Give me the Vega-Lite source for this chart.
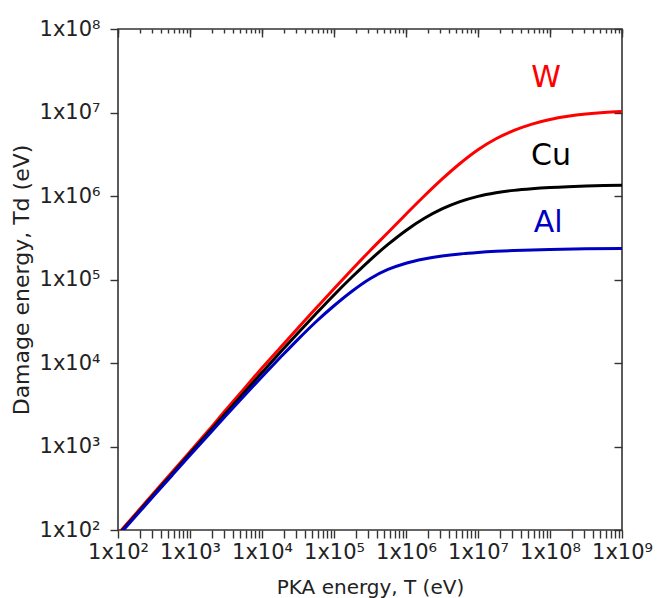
{
  "$schema": "https://vega.github.io/schema/vega-lite/v6.json",
  "width": 504,
  "height": 501,
  "autosize": "none",
  "padding": {"left": 118, "top": 29, "right": 50, "bottom": 68},
  "background": "white",
  "config": {
    "view": {"stroke": "#333333", "strokeWidth": 1.6},
    "axis": {"domain": false, "grid": false, "ticks": true, "labelFont": "DejaVu Sans", "titleFont": "DejaVu Sans", "labelColor": "#222222", "titleColor": "#222222", "tickColor": "#333333", "tickWidth": 1.4, "titleFontWeight": "normal"}
  },
  "resolve": {"axis": {"x": "independent", "y": "independent"}},
  "layer": [
    {
      "data": {"values": [
        {"m":"W","T":100,"Td":89.7},{"m":"W","T":177.8,"Td":158.1},{"m":"W","T":316.2,"Td":280},{"m":"W","T":562.3,"Td":492},
        {"m":"W","T":1000,"Td":866},{"m":"W","T":1778,"Td":1530},{"m":"W","T":3162,"Td":2754},{"m":"W","T":5623,"Td":4898},
        {"m":"W","T":10000,"Td":8710},{"m":"W","T":17783,"Td":15140},{"m":"W","T":31623,"Td":26300},{"m":"W","T":56234,"Td":45190},
        {"m":"W","T":100000,"Td":77620},{"m":"W","T":177828,"Td":131800},{"m":"W","T":316228,"Td":221300},{"m":"W","T":562341,"Td":365000},
        {"m":"W","T":1000000,"Td":605000},{"m":"W","T":1778279,"Td":992000},{"m":"W","T":3162278,"Td":1590000},{"m":"W","T":5623413,"Td":2450000},
        {"m":"W","T":10000000,"Td":3580000},{"m":"W","T":17782794,"Td":4850000},{"m":"W","T":31622777,"Td":6100000},{"m":"W","T":56234133,"Td":7270000},
        {"m":"W","T":100000000,"Td":8250000},{"m":"W","T":177827941,"Td":9000000},{"m":"W","T":316227766,"Td":9572000},{"m":"W","T":562341325,"Td":10000000},
        {"m":"W","T":1000000000,"Td":10300000},
        {"m":"Cu","T":100,"Td":87.05},{"m":"Cu","T":177.8,"Td":152.8},{"m":"Cu","T":316.2,"Td":267.8},{"m":"Cu","T":562.3,"Td":468.8},
        {"m":"Cu","T":1000,"Td":825},{"m":"Cu","T":1778,"Td":1445},{"m":"Cu","T":3162,"Td":2520},{"m":"Cu","T":5623,"Td":4390},
        {"m":"Cu","T":10000,"Td":7674},{"m":"Cu","T":17783,"Td":13340},{"m":"Cu","T":31623,"Td":22910},{"m":"Cu","T":56234,"Td":38900},
        {"m":"Cu","T":100000,"Td":65310},{"m":"Cu","T":177828,"Td":107000},{"m":"Cu","T":316228,"Td":171000},{"m":"Cu","T":562341,"Td":263000},
        {"m":"Cu","T":1000000,"Td":387000},{"m":"Cu","T":1778279,"Td":537000},{"m":"Cu","T":3162278,"Td":700000},{"m":"Cu","T":5623413,"Td":856000},
        {"m":"Cu","T":10000000,"Td":990000},{"m":"Cu","T":17782794,"Td":1092000},{"m":"Cu","T":31622777,"Td":1168000},{"m":"Cu","T":56234133,"Td":1222000},
        {"m":"Cu","T":100000000,"Td":1263000},{"m":"Cu","T":177827941,"Td":1293000},{"m":"Cu","T":316227766,"Td":1315000},{"m":"Cu","T":562341325,"Td":1332000},
        {"m":"Cu","T":1000000000,"Td":1346000},
        {"m":"Al","T":100,"Td":84.47},{"m":"Al","T":177.8,"Td":147.8},{"m":"Al","T":316.2,"Td":258.4},{"m":"Al","T":562.3,"Td":450.3},
        {"m":"Al","T":1000,"Td":783.4},{"m":"Al","T":1778,"Td":1358},{"m":"Al","T":3162,"Td":2347},{"m":"Al","T":5623,"Td":4031},
        {"m":"Al","T":10000,"Td":6863},{"m":"Al","T":17783,"Td":11530},{"m":"Al","T":31623,"Td":19200},{"m":"Al","T":56234,"Td":31200},
        {"m":"Al","T":100000,"Td":48500},{"m":"Al","T":177828,"Td":72440},{"m":"Al","T":316228,"Td":102300},{"m":"Al","T":562341,"Td":131800},
        {"m":"Al","T":1000000,"Td":156700},{"m":"Al","T":1778279,"Td":176000},{"m":"Al","T":3162278,"Td":191000},{"m":"Al","T":5623413,"Td":202500},
        {"m":"Al","T":10000000,"Td":211000},{"m":"Al","T":17782794,"Td":217600},{"m":"Al","T":31622777,"Td":222500},{"m":"Al","T":56234133,"Td":226100},
        {"m":"Al","T":100000000,"Td":228900},{"m":"Al","T":316227766,"Td":232900},{"m":"Al","T":1000000000,"Td":235600}
      ]},
      "mark": {"type": "line", "clip": true, "strokeWidth": 3, "interpolate": "monotone"},
      "encoding": {
        "x": {"field": "T", "type": "quantitative",
              "scale": {"type": "log", "domain": [100, 1000000000], "nice": false},
              "axis": {"orient": "bottom", "title": "PKA energy, T (eV)", "titleFontSize": 20, "titlePadding": 15,
                       "labelFontSize": 21, "tickSize": 8, "labelPadding": 3, "labelOverlap": false, "labelBound": false, "labelFlush": false,
                       "values": [100,200,300,400,500,600,700,800,900,1000,2000,3000,4000,5000,6000,7000,8000,9000,10000,20000,30000,40000,50000,60000,70000,80000,90000,100000,200000,300000,400000,500000,600000,700000,800000,900000,1000000,2000000,3000000,4000000,5000000,6000000,7000000,8000000,9000000,10000000,20000000,30000000,40000000,50000000,60000000,70000000,80000000,90000000,100000000,200000000,300000000,400000000,500000000,600000000,700000000,800000000,900000000,1000000000],
                       "encode": {"ticks": {"update": {"y2": {"signal": "abs(log(datum.value)/LN10 - round(log(datum.value)/LN10)) < 0.001 ? -8 : -4"}}}},
                       "labelExpr": "abs(log(datum.value)/LN10 - round(log(datum.value)/LN10)) < 0.001 ? '1x10' + ['⁰','¹','²','³','⁴','⁵','⁶','⁷','⁸','⁹'][round(log(datum.value)/LN10)] : ''"}},
        "y": {"field": "Td", "type": "quantitative",
              "scale": {"type": "log", "domain": [100, 100000000], "nice": false},
              "axis": {"orient": "left", "title": "Damage energy, Td (eV)", "titleFontSize": 22, "titlePadding": 6,
                       "labelFontSize": 21, "tickSize": 8, "labelPadding": 10, "labelOverlap": false, "labelBound": false, "labelFlush": false,
                       "values": [100,1000,10000,100000,1000000,10000000,100000000],
                       "encode": {"ticks": {"update": {"x2": {"value": 8}}}},
                       "labelExpr": "'1x10' + ['⁰','¹','²','³','⁴','⁵','⁶','⁷','⁸','⁹'][round(log(datum.value)/LN10)]"}},
        "color": {"field": "m", "type": "nominal", "legend": null,
                  "scale": {"domain": ["W", "Cu", "Al"], "range": ["#ff0000", "#000000", "#0000c0"]}}
      }
    },
    {
      "data": {"values": [
        {"m":"W","T":88000000,"Td":20200000},
        {"m":"Cu","T":103000000,"Td":2350000},
        {"m":"Al","T":94000000,"Td":371000}
      ]},
      "mark": {"type": "text", "font": "DejaVu Sans", "fontSize": 30, "align": "center", "baseline": "alphabetic"},
      "encoding": {
        "x": {"field": "T", "type": "quantitative",
              "axis": {"orient": "top", "title": null, "labels": false, "tickSize": 4, "offset": -4,
                       "values": [100,200,300,400,500,600,700,800,900,1000,2000,3000,4000,5000,6000,7000,8000,9000,10000,20000,30000,40000,50000,60000,70000,80000,90000,100000,200000,300000,400000,500000,600000,700000,800000,900000,1000000,2000000,3000000,4000000,5000000,6000000,7000000,8000000,9000000,10000000,20000000,30000000,40000000,50000000,60000000,70000000,80000000,90000000,100000000,200000000,300000000,400000000,500000000,600000000,700000000,800000000,900000000,1000000000]}},
        "y": {"field": "Td", "type": "quantitative",
              "axis": {"orient": "right", "title": null, "labels": false, "tickSize": 8, "offset": -8,
                       "values": [100,1000,10000,100000,1000000,10000000,100000000]}},
        "text": {"field": "m"},
        "color": {"field": "m", "type": "nominal", "legend": null}
      }
    },
    {
      "data": {"values": [
        {"m":"W","T":88000000,"Td":20200000}
      ]},
      "mark": {"type": "point", "opacity": 0},
      "encoding": {
        "x": {"field": "T", "type": "quantitative",
              "axis": {"orient": "top", "title": null, "labels": false, "tickSize": 8, "offset": -8,
                       "values": [100,1000,10000,100000,1000000,10000000,100000000,1000000000]}},
        "y": {"field": "Td", "type": "quantitative", "axis": null}
      }
    }
  ]
}
